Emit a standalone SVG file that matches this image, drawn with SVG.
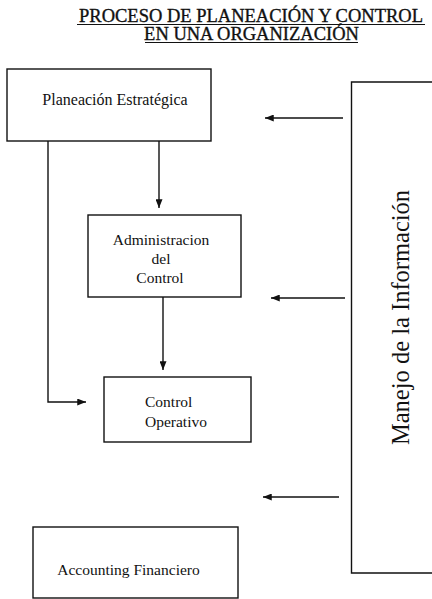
<svg xmlns="http://www.w3.org/2000/svg" width="432" height="599" viewBox="0 0 432 599">
  <style>
    .box { fill: #ffffff; stroke: #111111; stroke-width: 1.4; }
    .lbl { font-family: "Liberation Serif", "Times New Roman", serif; font-size: 15.5px; fill: #111111; }
    .ttl { font-family: "Liberation Serif", "Times New Roman", serif; font-size: 18.5px; fill: #111111; stroke: #111111; stroke-width: 0.35; text-anchor: middle; }
    .edge { fill: none; stroke: #111111; stroke-width: 1.4; }
    .ul { stroke: #111111; stroke-width: 1.2; }
  </style>
  <defs>
    <marker id="arrow" viewBox="0 0 10 8" refX="10" refY="4" markerWidth="10" markerHeight="7" markerUnits="userSpaceOnUse" orient="auto">
      <path d="M0,0 L10,4 L0,8 Z" fill="#111111"/>
    </marker>
  </defs>
  <rect width="432" height="599" fill="#ffffff"/>

  <!-- Title -->
  <g id="title">
    <text class="ttl" x="251" y="21.5">PROCESO DE PLANEACIÓN Y CONTROL</text>
    <line class="ul" x1="77" y1="24.5" x2="425" y2="24.5"/>
    <text class="ttl" x="251.5" y="39.5">EN UNA ORGANIZACIÓN</text>
    <line class="ul" x1="145" y1="42.5" x2="358" y2="42.5"/>
  </g>

  <!-- Nodes -->
  <g id="planeacion">
    <rect class="box" x="7" y="69" width="204" height="72"/>
    <text class="lbl" x="115" y="105" text-anchor="middle" style="font-size:16px">Planeación Estratégica</text>
  </g>
  <g id="administracion">
    <rect class="box" x="88" y="215" width="153" height="82"/>
    <text class="lbl" x="161" y="245" text-anchor="middle">Administracion</text>
    <text class="lbl" x="161" y="264" text-anchor="middle">del</text>
    <text class="lbl" x="160" y="283" text-anchor="middle">Control</text>
  </g>
  <g id="operativo">
    <rect class="box" x="104" y="377" width="147" height="65"/>
    <text class="lbl" x="145" y="407">Control</text>
    <text class="lbl" x="145" y="427">Operativo</text>
  </g>
  <g id="accounting">
    <rect class="box" x="33" y="527" width="205" height="71"/>
    <text class="lbl" x="128.5" y="575" text-anchor="middle">Accounting Financiero</text>
  </g>
  <g id="informacion">
    <path class="box" d="M440,82 L351.5,82 L351.5,573 L440,573"/>
    <text class="lbl" style="font-size:24.5px" x="0" y="0" text-anchor="middle" transform="translate(409,317.5) rotate(-90)">Manejo de la Información</text>
  </g>

  <!-- Connectors -->
  <g id="connectors">
    <line class="edge" x1="343" y1="118" x2="265" y2="118" marker-end="url(#arrow)"/>
    <line class="edge" x1="345" y1="298" x2="271" y2="298" marker-end="url(#arrow)"/>
    <line class="edge" x1="339" y1="497" x2="263" y2="497" marker-end="url(#arrow)"/>
    <line class="edge" x1="159" y1="141" x2="159" y2="208" marker-end="url(#arrow)"/>
    <line class="edge" x1="163" y1="297" x2="163" y2="370" marker-end="url(#arrow)"/>
    <path class="edge" d="M48,141 L48,402 L86,402" marker-end="url(#arrow)"/>
  </g>
</svg>
